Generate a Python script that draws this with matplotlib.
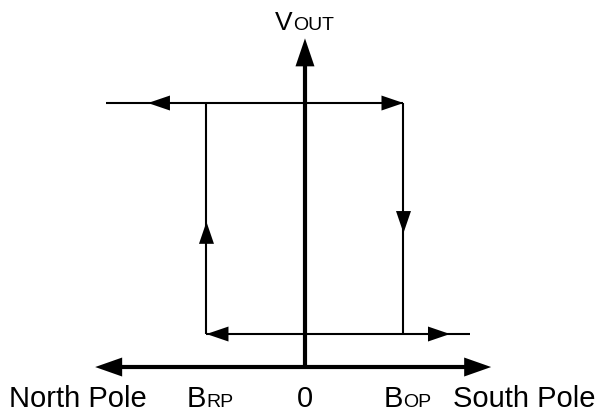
import matplotlib
matplotlib.use("Agg")
import matplotlib.pyplot as plt
from matplotlib.patches import Polygon
from matplotlib.transforms import IdentityTransform

# Hall switch hysteresis: field B (arbitrary units) vs output voltage
b_rp = -1.0
b_op = 1.0
v_low = 0.5
v_high = 4.0

# extents of the drawn lines
top_left = -2.02
bottom_right = 1.675
axis_left = -2.13
axis_right = 1.89
axis_top = 4.98

# positions of the mid-line arrowheads
arrow_top_left = -1.594
arrow_bottom_right = 1.472
arrow_down = 2.03
arrow_up = 2.20

FONT = "Liberation Sans"
DIRS = {"left": (-1, 0), "right": (1, 0), "up": (0, 1), "down": (0, -1)}


def head(ax, x, y, direction, length=22, width=15):
    """Filled triangle with its tip at data point (x, y), sized in pixels."""
    tx, ty = ax.transData.transform((x, y))
    dx, dy = DIRS[direction]
    bx, by = tx - dx * length, ty - dy * length
    px, py = -dy * width / 2, dx * width / 2
    pts = [(tx, ty), (bx + px, by + py), (bx - px, by - py)]
    ax.add_patch(Polygon(pts, closed=True, facecolor="black", edgecolor="none",
                         transform=IdentityTransform()))


def label(ax, xy, text, dx, dy, size, ha="left"):
    ax.annotate(text, xy=xy, xytext=(dx, dy), textcoords="offset pixels",
                ha=ha, va="baseline", fontsize=size, family=FONT, color="black")


fig = plt.figure(figsize=(6.01, 4.16), dpi=100)
ax = fig.add_axes([0, 0, 1, 1])
ax.set_xlim(-3.096, 3.005)
ax.set_ylim(-0.742, 5.561)
ax.set_axis_off()

thin = dict(color="black", lw=1.5, solid_capstyle="butt")
thick = dict(color="black", lw=3.0, solid_capstyle="butt")

# hysteresis loop
ax.plot([top_left, b_op], [v_high, v_high], **thin)
ax.plot([b_op, b_op], [v_high, v_low], **thin)
ax.plot([b_rp, b_rp], [v_low, v_high], **thin)
ax.plot([b_rp, bottom_right], [v_low, v_low], **thin)

head(ax, arrow_top_left, v_high, "left")
head(ax, b_op, v_high, "right")
head(ax, b_op, arrow_down, "down")
head(ax, b_rp, arrow_up, "up")
head(ax, b_rp, v_low, "left")
head(ax, arrow_bottom_right, v_low, "right")

# axes (lines stop at the arrowhead bases)
sx = 98.5
sy = 66.0
ax.plot([axis_left + 20 / sx, axis_right - 20 / sx], [0, 0], **thick)
ax.plot([0, 0], [0, axis_top - 20 / sy], **thick)
head(ax, axis_left, 0, "left", length=27, width=19)
head(ax, axis_right, 0, "right", length=27, width=19)
head(ax, 0, axis_top, "up", length=28, width=19)

# labels
label(ax, (axis_left, 0), "North Pole", -86, -40, 21)
label(ax, (axis_right, 0), "South Pole", -38, -40, 21)
label(ax, (0, 0), "0", 0, -40, 21, ha="center")
label(ax, (b_rp, 0), "B", 0, -40, 21, ha="right")
label(ax, (b_rp, 0), "RP", 0, -40, 14)
label(ax, (b_op, 0), "B", 0, -40, 21, ha="right")
label(ax, (b_op, 0), "OP", 0, -40, 14)
label(ax, (0, axis_top), "V", -12, 8, 19, ha="right")
label(ax, (0, axis_top), "OUT", -12, 8, 14)

fig.savefig("out.png", dpi=100)
